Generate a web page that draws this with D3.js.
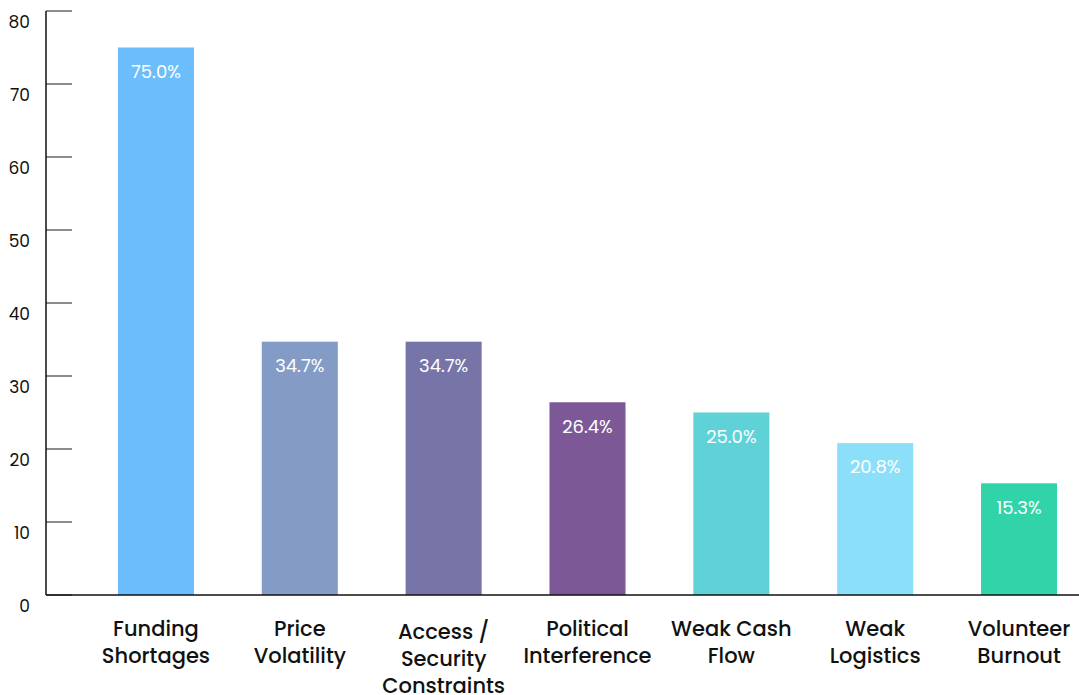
<!DOCTYPE html>
<html>
<head>
<meta charset="utf-8">
<script src="https://cdn.jsdelivr.net/npm/d3@7"></script>
<style>
  body { margin: 0; background: #fff; }
  svg { display: block; font-family: Poppins, "Open Sans", sans-serif; }
</style>
</head>
<body>
<svg id="chart" width="1079" height="695"></svg>
<script>
// chart data
var categories = [
  ["Funding", "Shortages"],
  ["Price", "Volatility"],
  ["Access /", "Security", "Constraints"],
  ["Political", "Interference"],
  ["Weak Cash", "Flow"],
  ["Weak", "Logistics"],
  ["Volunteer", "Burnout"]
];
var values = [75.0, 34.7, 34.7, 26.4, 25.0, 20.8, 15.3];
var barColors = ["#6bbefb", "#849bc6", "#7774a8", "#7c5996", "#5fd2d8", "#8cdff8", "#31d4a8"];
var yTicks = [0, 10, 20, 30, 40, 50, 60, 70, 80];

var svg = d3.select("#chart"),
    width = +svg.attr("width"),
    height = +svg.attr("height");

var x0 = 46, yTop = 11, yBase = 595;

var x = d3.scaleBand()
    .domain(d3.range(values.length))
    .range([x0, 1129])
    .paddingInner(0.4715)
    .paddingOuter(0.5);

var y = d3.scaleLinear()
    .domain([0, 80])
    .range([yBase, yTop]);

// y tick marks (drawn inward) and labels
var yAxis = svg.append("g").attr("class", "y-axis");
yAxis.selectAll("line.tick")
  .data(yTicks)
  .enter().append("line")
    .attr("class", "tick")
    .attr("x1", x0).attr("x2", x0 + 26)
    .attr("y1", function(d) { return y(d); })
    .attr("y2", function(d) { return y(d); })
    .attr("stroke", "#666")
    .attr("stroke-width", 1.5);

yAxis.selectAll("text")
  .data(yTicks)
  .enter().append("text")
    .attr("x", 30)
    .attr("y", function(d) { return y(d) + 11; })
    .attr("dy", "0.35em")
    .attr("text-anchor", "end")
    .attr("font-size", 17)
    .attr("fill", "#111")
    .text(function(d) { return d; });

// bars
var bar = svg.append("g").selectAll("g")
  .data(values)
  .enter().append("g");

bar.append("rect")
    .attr("x", function(d, i) { return x(i); })
    .attr("y", function(d) { return y(d); })
    .attr("width", x.bandwidth())
    .attr("height", function(d) { return yBase - y(d); })
    .attr("fill", function(d, i) { return barColors[i]; });

bar.append("text")
    .attr("x", function(d, i) { return x(i) + x.bandwidth() / 2; })
    .attr("y", function(d) { return y(d) + 24; })
    .attr("dy", "0.35em")
    .attr("text-anchor", "middle")
    .attr("fill", "#fff")
    .attr("font-size", 18)
    .text(function(d) { return d.toFixed(1) + "%"; });

// axis lines
svg.append("line")
    .attr("x1", x0).attr("x2", x0)
    .attr("y1", yTop).attr("y2", yBase)
    .attr("stroke", "#111").attr("stroke-width", 1.5);
svg.append("line")
    .attr("x1", x0).attr("x2", width)
    .attr("y1", yBase).attr("y2", yBase)
    .attr("stroke", "#111").attr("stroke-width", 1.5);

// category labels
var cat = svg.append("g").selectAll("text")
  .data(categories)
  .enter().append("text")
    .attr("text-anchor", "middle")
    .attr("font-size", 21)
    .attr("font-weight", 500)
    .attr("fill", "#111")
    .attr("transform", function(d, i) {
      var off = d.length > 2 ? 3 : 0;
      return "translate(" + (x(i) + x.bandwidth() / 2) + "," + (629 + off) + ")";
    });

cat.selectAll("tspan")
  .data(function(d) { return d; })
  .enter().append("tspan")
    .attr("x", 0)
    .attr("y", function(d, j) { return j * 27; })
    .attr("dy", "0.35em")
    .text(function(d) { return d; });
</script>
</body>
</html>
